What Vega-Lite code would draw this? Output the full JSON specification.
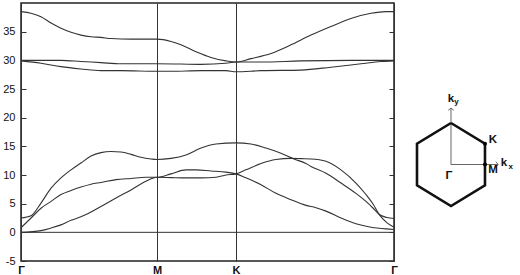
{
  "$schema": "https://vega.github.io/schema/vega-lite/v6.json",
  "padding": {"left": 2, "top": 2, "right": 0, "bottom": 0},
  "background": "white",
  "spacing": 7,
  "config": {"view": {"stroke": "#222", "strokeWidth": 1.5}, "font": "Liberation Sans"},
  "hconcat": [
    {
      "width": 373,
      "height": 258,
      "layer": [
        {
          "data": {"values": [
            {"band":"L1","k":0,"f":2.5},{"band":"L1","k":0.074,"f":2.9},{"band":"L1","k":0.147,"f":5.1},{"band":"L1","k":0.221,"f":7.7},{"band":"L1","k":0.294,"f":9.5},{"band":"L1","k":0.368,"f":10.9},{"band":"L1","k":0.441,"f":12.1},{"band":"L1","k":0.515,"f":13.3},{"band":"L1","k":0.588,"f":13.9},{"band":"L1","k":0.662,"f":14.1},{"band":"L1","k":0.735,"f":14.0},{"band":"L1","k":0.809,"f":13.6},{"band":"L1","k":0.882,"f":13.1},{"band":"L1","k":0.956,"f":12.8},{"band":"L1","k":1.0,"f":12.7},{"band":"L1","k":1.103,"f":12.9},{"band":"L1","k":1.213,"f":13.5},{"band":"L1","k":1.324,"f":14.7},{"band":"L1","k":1.434,"f":15.4},{"band":"L1","k":1.581,"f":15.6},{"band":"L1","k":1.691,"f":15.4},{"band":"L1","k":1.801,"f":14.7},{"band":"L1","k":1.912,"f":13.8},{"band":"L1","k":2.007,"f":12.8},{"band":"L1","k":2.096,"f":12.0},{"band":"L1","k":2.132,"f":11.5},{"band":"L1","k":2.243,"f":10.3},{"band":"L1","k":2.353,"f":8.6},{"band":"L1","k":2.463,"f":6.8},{"band":"L1","k":2.537,"f":5.4},{"band":"L1","k":2.59,"f":4.2},{"band":"L1","k":2.635,"f":3.1},{"band":"L1","k":2.69,"f":2.6},{"band":"L1","k":2.743,"f":2.4},
            {"band":"L2","k":0,"f":0.8},{"band":"L2","k":0.074,"f":2.5},{"band":"L2","k":0.147,"f":4.2},{"band":"L2","k":0.221,"f":5.4},{"band":"L2","k":0.294,"f":6.6},{"band":"L2","k":0.368,"f":7.3},{"band":"L2","k":0.441,"f":7.9},{"band":"L2","k":0.515,"f":8.4},{"band":"L2","k":0.588,"f":8.7},{"band":"L2","k":0.699,"f":9.2},{"band":"L2","k":0.809,"f":9.4},{"band":"L2","k":0.919,"f":9.6},{"band":"L2","k":1.0,"f":9.6},{"band":"L2","k":1.103,"f":10.2},{"band":"L2","k":1.213,"f":10.9},{"band":"L2","k":1.287,"f":10.9},{"band":"L2","k":1.397,"f":10.7},{"band":"L2","k":1.507,"f":10.5},{"band":"L2","k":1.581,"f":10.2},{"band":"L2","k":1.654,"f":9.5},{"band":"L2","k":1.765,"f":8.3},{"band":"L2","k":1.875,"f":6.8},{"band":"L2","k":1.985,"f":5.7},{"band":"L2","k":2.096,"f":4.7},{"band":"L2","k":2.169,"f":4.3},{"band":"L2","k":2.243,"f":3.7},{"band":"L2","k":2.353,"f":2.5},{"band":"L2","k":2.463,"f":1.5},{"band":"L2","k":2.574,"f":0.9},{"band":"L2","k":2.684,"f":0.6},{"band":"L2","k":2.743,"f":0.5},
            {"band":"L3","k":0,"f":0.0},{"band":"L3","k":0.147,"f":0.3},{"band":"L3","k":0.221,"f":0.75},{"band":"L3","k":0.294,"f":1.3},{"band":"L3","k":0.368,"f":2.1},{"band":"L3","k":0.441,"f":2.7},{"band":"L3","k":0.478,"f":3.1},{"band":"L3","k":0.588,"f":4.5},{"band":"L3","k":0.699,"f":6.0},{"band":"L3","k":0.809,"f":7.4},{"band":"L3","k":0.919,"f":8.9},{"band":"L3","k":1.0,"f":9.6},{"band":"L3","k":1.103,"f":9.55},{"band":"L3","k":1.213,"f":9.5},{"band":"L3","k":1.324,"f":9.5},{"band":"L3","k":1.434,"f":9.6},{"band":"L3","k":1.507,"f":10.0},{"band":"L3","k":1.581,"f":10.2},{"band":"L3","k":1.654,"f":10.9},{"band":"L3","k":1.765,"f":12.0},{"band":"L3","k":1.875,"f":12.7},{"band":"L3","k":1.985,"f":12.9},{"band":"L3","k":2.059,"f":12.85},{"band":"L3","k":2.132,"f":12.8},{"band":"L3","k":2.243,"f":12.4},{"band":"L3","k":2.353,"f":10.9},{"band":"L3","k":2.463,"f":8.6},{"band":"L3","k":2.537,"f":6.6},{"band":"L3","k":2.59,"f":4.9},{"band":"L3","k":2.635,"f":3.1},{"band":"L3","k":2.69,"f":1.7},{"band":"L3","k":2.743,"f":0.9},
            {"band":"U1","k":0,"f":38.5},{"band":"U1","k":0.074,"f":38.2},{"band":"U1","k":0.147,"f":37.6},{"band":"U1","k":0.221,"f":36.5},{"band":"U1","k":0.294,"f":35.6},{"band":"U1","k":0.368,"f":34.9},{"band":"U1","k":0.441,"f":34.4},{"band":"U1","k":0.515,"f":34.1},{"band":"U1","k":0.588,"f":34.0},{"band":"U1","k":0.662,"f":33.8},{"band":"U1","k":0.809,"f":33.7},{"band":"U1","k":0.956,"f":33.7},{"band":"U1","k":1.0,"f":33.7},{"band":"U1","k":1.103,"f":33.3},{"band":"U1","k":1.176,"f":32.7},{"band":"U1","k":1.287,"f":31.5},{"band":"U1","k":1.397,"f":30.5},{"band":"U1","k":1.507,"f":29.9},{"band":"U1","k":1.581,"f":29.7},{"band":"U1","k":1.691,"f":30.3},{"band":"U1","k":1.838,"f":31.2},{"band":"U1","k":1.985,"f":32.7},{"band":"U1","k":2.132,"f":34.4},{"band":"U1","k":2.279,"f":35.9},{"band":"U1","k":2.426,"f":37.3},{"band":"U1","k":2.574,"f":38.2},{"band":"U1","k":2.684,"f":38.5},{"band":"U1","k":2.743,"f":38.5},
            {"band":"U2","k":0,"f":30.0},{"band":"U2","k":0.147,"f":30.0},{"band":"U2","k":0.294,"f":30.0},{"band":"U2","k":0.441,"f":29.8},{"band":"U2","k":0.588,"f":29.6},{"band":"U2","k":0.735,"f":29.4},{"band":"U2","k":0.882,"f":29.4},{"band":"U2","k":1.0,"f":29.4},{"band":"U2","k":1.176,"f":29.35},{"band":"U2","k":1.324,"f":29.3},{"band":"U2","k":1.507,"f":29.5},{"band":"U2","k":1.581,"f":29.7},{"band":"U2","k":1.765,"f":29.7},{"band":"U2","k":2.059,"f":29.9},{"band":"U2","k":2.426,"f":30.0},{"band":"U2","k":2.743,"f":30.0},
            {"band":"U3","k":0,"f":29.9},{"band":"U3","k":0.147,"f":29.5},{"band":"U3","k":0.294,"f":28.9},{"band":"U3","k":0.441,"f":28.5},{"band":"U3","k":0.588,"f":28.2},{"band":"U3","k":0.735,"f":28.2},{"band":"U3","k":1.0,"f":28.1},{"band":"U3","k":1.103,"f":28.1},{"band":"U3","k":1.324,"f":28.2},{"band":"U3","k":1.507,"f":28.2},{"band":"U3","k":1.581,"f":28.0},{"band":"U3","k":1.765,"f":28.2},{"band":"U3","k":2.059,"f":28.3},{"band":"U3","k":2.279,"f":28.8},{"band":"U3","k":2.5,"f":29.4},{"band":"U3","k":2.647,"f":29.8},{"band":"U3","k":2.743,"f":29.9}
          ]},
          "mark": {"type": "line", "interpolate": "monotone", "color": "#333", "strokeWidth": 1.1},
          "encoding": {
            "x": {"field": "k", "type": "quantitative",
              "scale": {"domain": [0, 2.743], "nice": false, "zero": false},
              "axis": {"values": [0, 1, 1.581, 2.743], "labelExpr": "datum.value == 1 ? 'M' : (abs(datum.value - 1.581) < 0.01 ? 'K' : 'Γ')",
                "grid": true, "gridColor": "#333", "gridOpacity": 1, "gridWidth": 1, "ticks": false, "domain": false, "title": null,
                "labelFontSize": 11, "labelFontWeight": "bold", "labelColor": "#111", "labelPadding": 3, "labelFlush": false}},
            "y": {"field": "f", "type": "quantitative",
              "scale": {"domain": [-5, 40], "nice": false, "zero": false},
              "axis": {"values": [-5, 0, 5, 10, 15, 20, 25, 30, 35], "labelExpr": "datum.value + ''", "grid": false,
                "tickSize": -5, "tickColor": "#333", "labelPadding": 11, "domain": false, "title": null,
                "labelFontSize": 11, "labelColor": "#111"}},
            "detail": {"field": "band"}
          }
        },
        {
          "data": {"values": [{"f": 0}]},
          "mark": {"type": "rule", "color": "#333", "strokeWidth": 1},
          "encoding": {
            "y": {"field": "f", "type": "quantitative",
              "axis": {"orient": "right", "values": [-5, 0, 5, 10, 15, 20, 25, 30, 35], "labels": false, "tickSize": -5, "tickColor": "#333", "domain": false, "grid": false, "title": null}}
          }
        }
      ],
      "resolve": {"axis": {"y": "independent"}}
    },
    {
      "width": 112,
      "height": 258,
      "view": {"stroke": null},
      "encoding": {
        "x": {"field": "x", "type": "quantitative", "scale": {"domain": [-1.146, 1.707], "nice": false, "zero": false}, "axis": null},
        "y": {"field": "y", "type": "quantitative", "scale": {"domain": [-2.325, 3.892], "nice": false, "zero": false}, "axis": null}
      },
      "layer": [
        {
          "data": {"values": [
            {"seg": "kx", "i": 0, "x": 0, "y": 0}, {"seg": "kx", "i": 1, "x": 1.2, "y": 0},
            {"seg": "ky", "i": 0, "x": 0, "y": 0}, {"seg": "ky", "i": 1, "x": 0, "y": 1.36}
          ]},
          "mark": {"type": "line", "color": "#666", "strokeWidth": 1},
          "encoding": {"detail": {"field": "seg"}, "order": {"field": "i"}}
        },
        {
          "data": {"values": [
            {"i": 0, "x": 0, "y": 1}, {"i": 1, "x": 0.866, "y": 0.5}, {"i": 2, "x": 0.866, "y": -0.5},
            {"i": 3, "x": 0, "y": -1}, {"i": 4, "x": -0.866, "y": -0.5}, {"i": 5, "x": -0.866, "y": 0.5}, {"i": 6, "x": 0, "y": 1}
          ]},
          "mark": {"type": "line", "color": "#111", "strokeWidth": 2.6, "strokeJoin": "miter"},
          "encoding": {"order": {"field": "i"}}
        },
        {
          "data": {"values": [{"x": 0, "y": 1.36}]},
          "mark": {"type": "point", "shape": "M-1,0.8L0,0L1,0.8", "filled": false, "size": 30, "stroke": "#666", "strokeWidth": 1, "opacity": 1}
        },
        {
          "data": {"values": [{"x": 1.2, "y": 0}]},
          "mark": {"type": "point", "shape": "M-0.8,-1L0,0L-0.8,1", "filled": false, "size": 30, "stroke": "#666", "strokeWidth": 1, "opacity": 1}
        },
        {
          "data": {"values": [{"name": "K", "x": 0.866, "y": 0.5}, {"name": "M", "x": 0.866, "y": 0}]},
          "mark": {"type": "point", "shape": "circle", "filled": true, "size": 16, "color": "#000", "opacity": 1}
        },
        {
          "data": {"values": [
            {"t": "K", "x": 1.07, "y": 0.59}, {"t": "M", "x": 1.07, "y": -0.13}, {"t": "Γ", "x": -0.05, "y": -0.28},
            {"t": "k", "x": 1.35, "y": 0.04}, {"t": "k", "x": 0, "y": 1.58}
          ]},
          "mark": {"type": "text", "font": "Liberation Sans", "fontSize": 11.5, "fontWeight": "bold", "color": "#111", "align": "center", "baseline": "middle"},
          "encoding": {"text": {"field": "t"}}
        },
        {
          "data": {"values": [{"t": "x", "x": 1.52, "y": -0.07}, {"t": "y", "x": 0.14, "y": 1.5}]},
          "mark": {"type": "text", "font": "Liberation Sans", "fontSize": 8, "fontWeight": "bold", "color": "#111", "align": "center", "baseline": "middle"},
          "encoding": {"text": {"field": "t"}}
        }
      ]
    }
  ]
}
